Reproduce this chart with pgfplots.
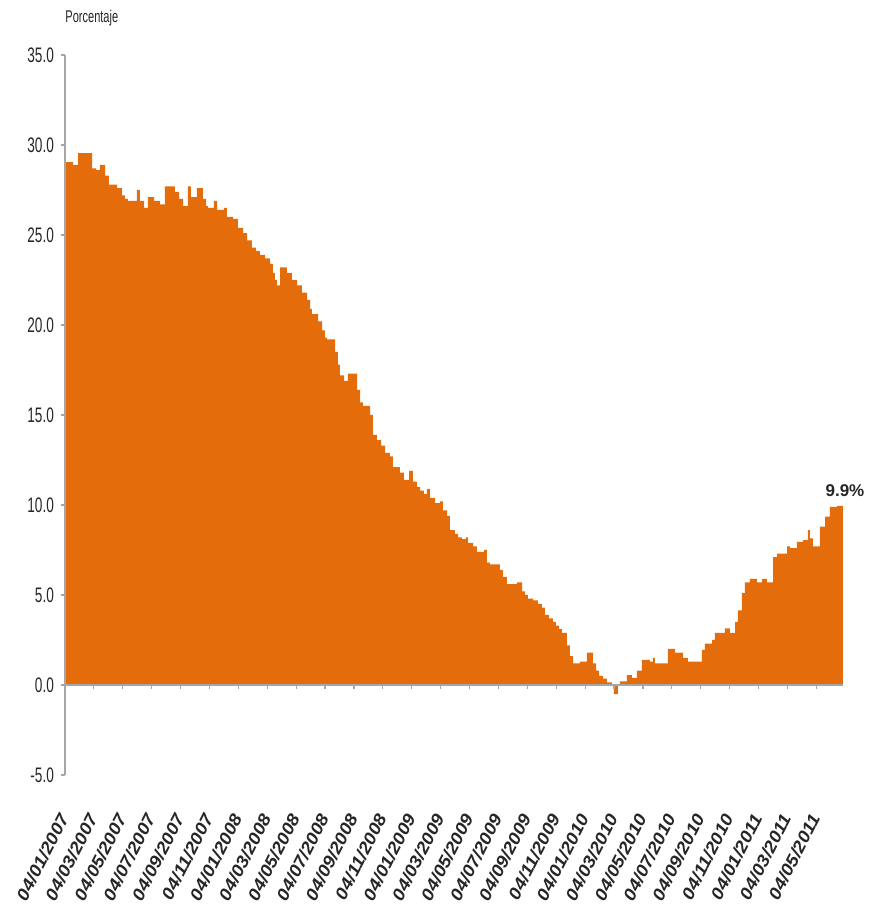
\documentclass[border=0pt]{standalone}
\usepackage{pgfplots}
\pgfplotsset{compat=1.18}
\usepackage{fontspec}
\setmainfont{Liberation Sans}
\newfontfamily\narrow[FakeStretch=0.65]{Liberation Sans}
\newfontfamily\wide[FakeStretch=1.1]{Liberation Sans}
\definecolor{barorange}{HTML}{E46C0A}
\definecolor{axgray}{HTML}{A6A6A6}
\definecolor{txt}{HTML}{262626}
\begin{document}
\begin{tikzpicture}
\useasboundingbox (0,0) rectangle (441.5pt,452.5pt);
\node[anchor=west, inner sep=0pt, font=\narrow\fontsize{8.5}{10}\selectfont, text=txt] at (32.5pt,443.5pt) {Porcentaje};
\begin{axis}[
  at={(32.5pt,65pt)}, anchor=south west,
  scale only axis, width=392.5pt, height=360pt,
  xmin=0, xmax=54.33, ymin=-5, ymax=35,
  clip=false,
  axis lines*=left,
  x axis line style={draw=none},
  y axis line style={axgray, line width=0.8pt},
  tick align=outside,
  ytick={-5,0,5,10,15,20,25,30,35},
  ytick style={axgray, line width=0.6pt},
  major tick length=2pt,
  yticklabel style={font=\narrow\fontsize{10.5}{12}\selectfont, text=txt,
    /pgf/number format/fixed, /pgf/number format/fixed zerofill,
    /pgf/number format/precision=1, /pgf/number format/assume math mode=true},
  xtick={0,2,...,52},
  xtick style={draw=none},
  xticklabels={04/01/2007,04/03/2007,04/05/2007,04/07/2007,04/09/2007,04/11/2007,
    04/01/2008,04/03/2008,04/05/2008,04/07/2008,04/09/2008,04/11/2008,
    04/01/2009,04/03/2009,04/05/2009,04/07/2009,04/09/2009,04/11/2009,
    04/01/2010,04/03/2010,04/05/2010,04/07/2010,04/09/2010,04/11/2010,
    04/01/2011,04/03/2011,04/05/2011},
  xticklabel style={font=\wide\bfseries\itshape\fontsize{8.6}{10}\selectfont, text=txt,
    yshift=-17pt, rotate=63, anchor=east, inner sep=1pt},
]
\addplot[const plot mark left, fill=barorange, draw=none] coordinates {
(0.07,29.05) (0.55,28.9) (0.90,29.55) (1.87,28.7) (2.15,28.6) (2.42,28.9) (2.77,28.3) (3.04,27.8) (3.60,27.6) (3.94,27.2) (4.15,27.0) (4.36,26.9) (4.98,27.5) (5.19,26.9) (5.47,26.5) (5.74,27.1) (6.16,26.9) (6.57,26.7) (6.92,27.7) (7.61,27.4) (7.89,27.0) (8.17,26.6) (8.51,27.7) (8.72,27.1) (9.13,27.6) (9.55,27.0) (9.76,26.6) (9.90,26.5) (10.31,26.9) (10.52,26.4) (11.00,26.5) (11.21,26.0) (11.63,25.9) (11.97,25.4) (12.32,25.1) (12.60,24.7) (12.94,24.3) (13.22,24.1) (13.49,23.9) (13.84,23.7) (14.19,23.4) (14.39,22.9) (14.53,22.5) (14.67,22.2) (14.88,23.2) (15.36,22.9) (15.71,22.5) (16.06,22.2) (16.40,21.8) (16.75,21.4) (16.96,20.9) (17.09,20.6) (17.51,20.2) (17.79,19.7) (17.99,19.3) (18.13,19.2) (18.69,18.5) (18.89,17.8) (19.03,17.2) (19.31,16.9) (19.58,17.3) (20.21,16.4) (20.42,15.7) (20.62,15.5) (21.11,15.0) (21.31,13.9) (21.59,13.6) (21.87,13.3) (22.15,12.9) (22.49,12.7) (22.70,12.1) (23.18,11.8) (23.46,11.4) (23.81,11.9) (24.08,11.3) (24.36,11.0) (24.57,10.8) (24.84,10.6) (25.05,10.9) (25.26,10.4) (25.61,10.1) (25.95,10.2) (26.16,9.7) (26.44,9.4) (26.64,8.6) (26.99,8.4) (27.20,8.2) (27.47,8.1) (27.75,8.2) (27.89,7.9) (28.24,7.7) (28.51,7.4) (29.00,7.5) (29.20,6.8) (29.41,6.7) (30.10,6.4) (30.31,6.0) (30.59,5.6) (31.28,5.7) (31.63,5.2) (31.83,5.0) (32.04,4.8) (32.39,4.7) (32.73,4.5) (33.01,4.3) (33.22,3.9) (33.49,3.7) (33.77,3.5) (33.98,3.3) (34.19,3.1) (34.39,2.9) (34.74,2.2) (34.95,1.6) (35.16,1.2) (35.64,1.3) (36.12,1.8) (36.54,1.2) (36.75,0.8) (36.96,0.5) (37.23,0.35) (37.51,0.15) (37.85,0.05) (37.99,-0.5) (38.27,0.0) (38.41,0.2) (38.89,0.55) (39.24,0.4) (39.58,0.8) (39.93,1.4) (40.48,1.3) (40.69,1.5) (40.83,1.2) (41.73,2.0) (42.21,1.8) (42.77,1.5) (43.11,1.3) (44.08,1.95) (44.29,2.3) (44.78,2.5) (44.98,2.9) (45.67,3.15) (46.02,2.9) (46.37,3.5) (46.57,4.15) (46.85,5.1) (47.06,5.7) (47.40,5.9) (47.89,5.7) (48.24,5.9) (48.58,5.7) (49.00,7.1) (49.27,7.3) (49.97,7.7) (50.17,7.6) (50.66,7.95) (51.07,8.05) (51.42,8.6) (51.56,8.15) (51.76,7.7) (52.25,8.8) (52.60,9.35) (52.94,9.9) (53.43,9.95) (53.84,9.95)
} \closedcycle;
\draw[axgray, line width=0.6pt] (axis cs:0,0) -- (axis cs:53.84,0);
\pgfplotsinvokeforeach{2,4,...,52}{\draw[axgray, line width=0.6pt] (axis cs:#1,0) -- ([yshift=-2pt]axis cs:#1,0);}
\node[font=\bfseries\fontsize{8.5}{10}\selectfont, text=txt] at (axis cs:53.98,10.78) {9.9\%};
\end{axis}
\end{tikzpicture}
\end{document}
